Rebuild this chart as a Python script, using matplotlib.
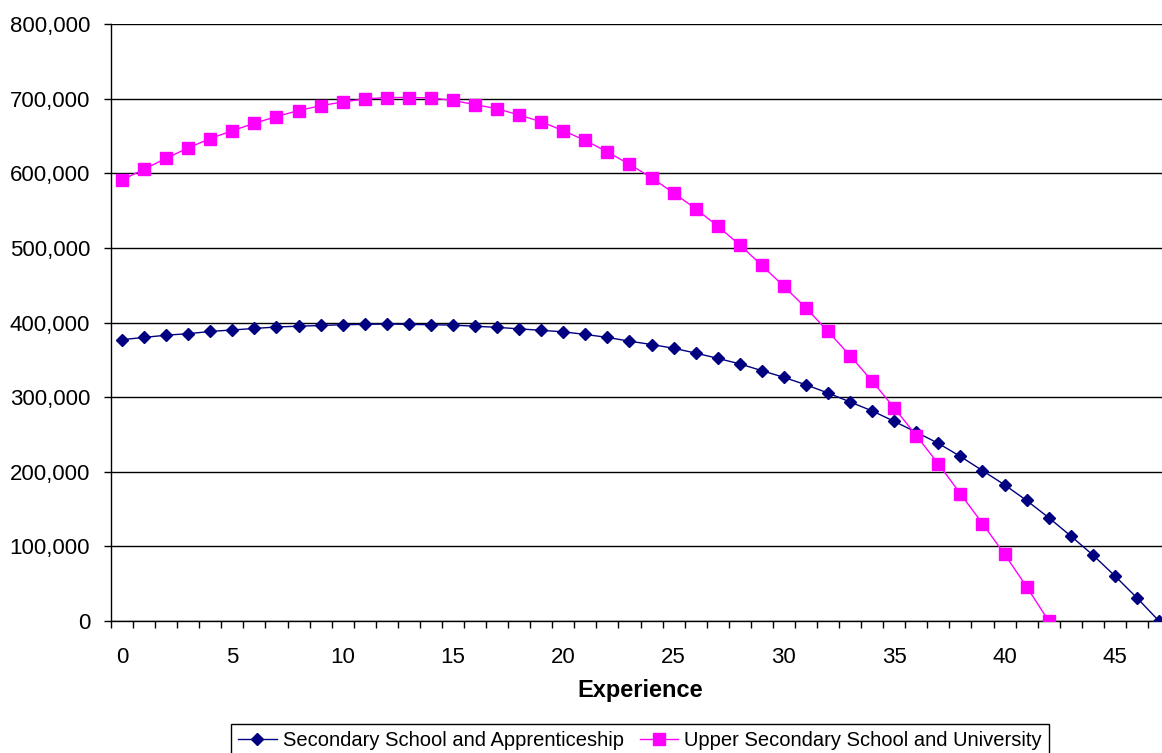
import matplotlib
matplotlib.use('Agg')
import matplotlib.pyplot as plt
from matplotlib.ticker import FuncFormatter, MultipleLocator, FixedLocator

plt.rcParams['font.family'] = ['Liberation Sans', 'DejaVu Sans']

# Data
experience = list(range(48))
secondary_apprentice = [
    377000, 380000, 383000, 385000, 388000, 390000, 392000, 394000, 395000, 396000,
    397000, 397500, 398000, 397500, 397000, 396500, 395000, 393500, 391500, 389500,
    387500, 384000, 380000, 375000, 370500, 365500, 359000, 352000, 344500, 335500,
    326500, 316500, 305500, 293500, 281500, 267500, 253000, 238000, 220500, 201500,
    182500, 161500, 138500, 114000, 88500, 60500, 31000, 0,
]
upper_secondary_univ = [
    591000, 605500, 620000, 634000, 646500, 657000, 667000, 676000, 684000, 690500,
    695500, 699500, 701500, 701500, 701000, 697500, 692000, 686500, 678000, 669000,
    657000, 644000, 628500, 612000, 594000, 573500, 552500, 529000, 504000, 476500,
    448500, 419500, 388000, 355500, 321500, 285500, 248500, 210500, 170500, 130500,
    89500, 46000, 0,
]
upper_x = experience[:len(upper_secondary_univ)]

navy = '#000080'
pink = '#FF00FF'

W, H = 1162, 753
fig = plt.figure(figsize=(W / 100, H / 100), dpi=100)
ax = fig.add_axes([111 / W, 1 - 621 / H, 1 - 111 / W, (621 - 24) / H])

ax.plot(experience, secondary_apprentice, color=navy, linewidth=1,
        marker='D', markersize=6.3, markerfacecolor=navy, markeredgecolor=navy,
        label='Secondary School and Apprenticeship', zorder=3)
ax.plot(upper_x, upper_secondary_univ, color=pink, linewidth=1,
        marker='s', markersize=9, markerfacecolor=pink, markeredgecolor=pink,
        label='Upper Secondary School and University', zorder=4)

ax.set_xlim(-0.5, 47 + 3 / 22.06)
ax.set_ylim(0, 800000)

# y axis
ax.yaxis.set_major_locator(MultipleLocator(100000))
ax.yaxis.set_major_formatter(FuncFormatter(lambda v, p: f'{int(v):,}'))
ax.tick_params(axis='y', direction='out', length=5, width=1, pad=10,
               labelsize=16, colors='black')
ax.grid(True, axis='y', color='black', linewidth=1)
ax.set_axisbelow(True)

# x axis: labels every 5, tick marks between categories
ax.xaxis.set_major_locator(FixedLocator(list(range(0, 46, 5))))
ax.xaxis.set_minor_locator(FixedLocator([i - 0.5 for i in range(49)]))
ax.tick_params(axis='x', which='major', length=0, pad=19, labelsize=16)
ax.tick_params(axis='x', which='minor', direction='out', length=5, width=1)

for side in ['top', 'right']:
    ax.spines[side].set_visible(False)
ax.spines['left'].set_color('black')
ax.spines['bottom'].set_color('black')
ax.spines['left'].set_linewidth(1)
ax.spines['bottom'].set_linewidth(1)

ax.set_xlabel('Experience', fontsize=17, fontweight='bold', va='center')
ax.xaxis.set_label_coords((640 - 111) / (W - 111), (621 - 690) / (621 - 24))

leg = ax.legend(loc='upper center', bbox_to_anchor=(640 / W, 1 - 724 / H),
                bbox_transform=fig.transFigure, ncol=2, fontsize=14.5,
                frameon=True, fancybox=False, framealpha=1, edgecolor='black',
                handlelength=1.9, handletextpad=0.3, columnspacing=0.8,
                borderpad=0.35, borderaxespad=0)
leg.get_frame().set_linewidth(1)

fig.savefig('out.png', dpi=100, facecolor='white')
